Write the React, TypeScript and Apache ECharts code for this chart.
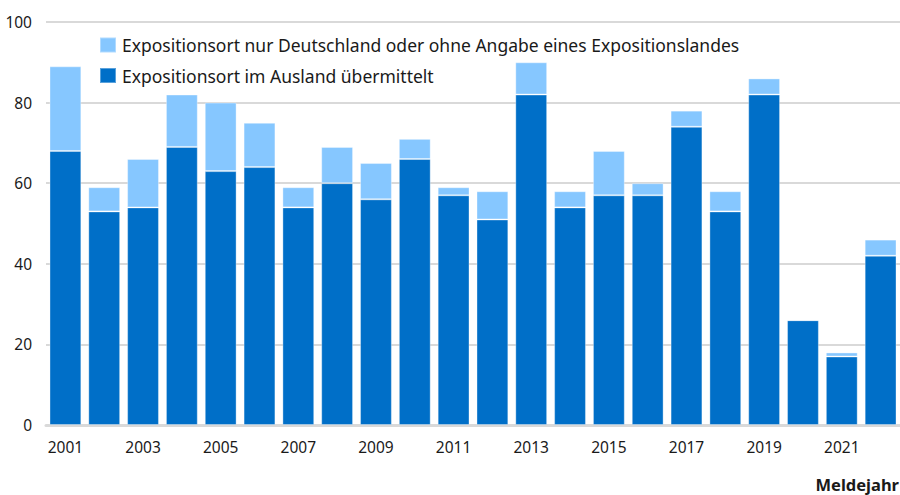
import React, { useEffect, useRef } from "react";
import * as echarts from "echarts";

const years = [
  "2001", "2002", "2003", "2004", "2005", "2006", "2007", "2008", "2009", "2010", "2011",
  "2012", "2013", "2014", "2015", "2016", "2017", "2018", "2019", "2020", "2021", "2022",
];
// Expositionsort im Ausland übermittelt (dark, bottom)
const ausland = [68, 53, 54, 69, 63, 64, 54, 60, 56, 66, 57, 51, 82, 54, 57, 57, 74, 53, 82, 26, 17, 42];
// Totals per year (top of light part)
const totals = [89, 59, 66, 82, 80, 75, 59, 69, 65, 71, 59, 58, 90, 58, 68, 60, 78, 58, 86, 26, 18, 46];
const deutschland = totals.map((t, i) => t - ausland[i]);

const nameLight = "Expositionsort nur Deutschland oder ohne Angabe eines Expositionslandes";
const nameDark = "Expositionsort im Ausland übermittelt";
const xAxisTitle = "Meldejahr";

const FONT = "Noto Sans";

export default function App() {
  const ref = useRef<HTMLDivElement>(null);
  useEffect(() => {
    if (!ref.current) return;
    const chart = echarts.init(ref.current, undefined, { renderer: "svg" });
    chart.setOption({
      animation: false,
      textStyle: { fontFamily: FONT },
      title: {
        text: xAxisTitle,
        right: 1,
        top: 476,
        padding: 0,
        textStyle: { fontFamily: FONT, fontSize: 16.5, fontWeight: "bold", color: "#1a1a1a" },
      },
      legend: {
        orient: "vertical",
        left: 99,
        top: 36,
        padding: 0,
        itemWidth: 16,
        itemHeight: 15,
        itemGap: 12.5,
        icon: "rect",
        data: [nameLight, nameDark],
        textStyle: { fontFamily: FONT, fontSize: 17.5, color: "#1a1a1a", padding: [0, 0, 0, 1] },
      },
      grid: { left: 46, right: 0, top: 22, bottom: 70, containLabel: false },
      xAxis: {
        type: "category",
        data: years,
        axisLine: { show: true, lineStyle: { color: "#d9d9d9", width: 3 } },
        axisTick: { show: false },
        axisLabel: { interval: 1, color: "#1a1a1a", fontSize: 15.5, margin: 14, fontFamily: FONT },
      },
      yAxis: {
        type: "value",
        min: 0,
        max: 100,
        interval: 20,
        axisLine: { show: false },
        axisTick: { show: false },
        axisLabel: { color: "#1a1a1a", fontSize: 15.5, margin: 14, fontFamily: FONT },
        splitLine: { show: true, lineStyle: { color: "#d9d9d9", width: 2 } },
      },
      series: [
        {
          name: nameDark,
          type: "bar",
          stack: "total",
          data: ausland,
          barCategoryGap: "18%",
          itemStyle: { color: "#006fc8", borderColor: "rgba(255,255,255,0.35)", borderWidth: 1 },
        },
        {
          name: nameLight,
          type: "bar",
          stack: "total",
          data: deutschland,
          barCategoryGap: "18%",
          itemStyle: { color: "#86c7ff", borderColor: "rgba(255,255,255,0.35)", borderWidth: 1 },
        },
      ],
    });
    return () => chart.dispose();
  }, []);
  return (
    <div
      ref={ref}
      style={{ position: "fixed", left: 0, top: 0, width: 900, height: 495, background: "#fff" }}
    />
  );
}
